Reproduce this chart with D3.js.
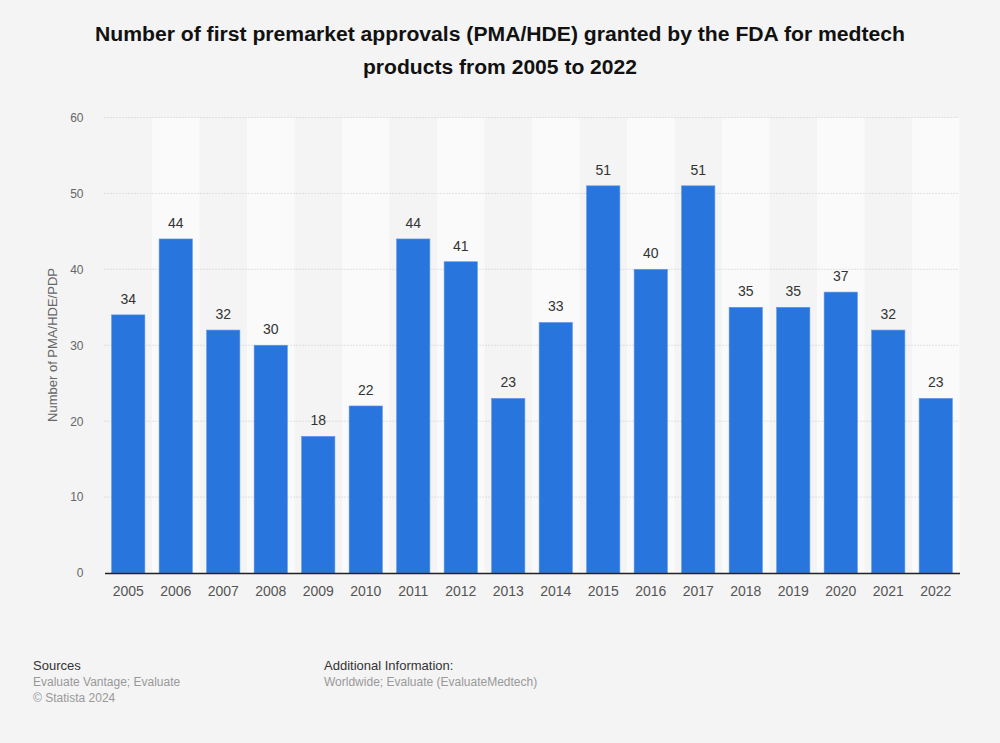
<!DOCTYPE html>
<html><head><meta charset="utf-8">
<script src="https://cdn.jsdelivr.net/npm/d3@7"></script>
<style>body{margin:0;background:#f4f4f4;}svg{display:block;}</style>
</head><body>
<script>
const years = ["2005","2006","2007","2008","2009","2010","2011","2012","2013","2014","2015","2016","2017","2018","2019","2020","2021","2022"];
const values = [34,44,32,30,18,22,44,41,23,33,51,40,51,35,35,37,32,23];
const yTicks = [0,10,20,30,40,50,60];
const titleLines = ["Number of first premarket approvals (PMA/HDE) granted by the FDA for medtech","products from 2005 to 2022"];
const yLabel = "Number of PMA/HDE/PDP";

const W=1000,H=743;
const svg=d3.select("body").append("svg").attr("width",W).attr("height",H);
svg.append("rect").attr("width",W).attr("height",H).attr("fill","#f4f4f4");
const font="'Liberation Sans', Arial, sans-serif";
const m={l:104.5,r:959.5,t:117.5,b:573};
const x=d3.scaleBand().domain(years).range([m.l,m.r]).paddingInner(0.3).paddingOuter(0.15);
const xb=d3.scaleBand().domain(years).range([m.l,m.r]);
const y=d3.scaleLinear().domain([0,60]).range([m.b,m.t]);

// alternating bands
svg.selectAll("rect.band").data(years.filter((d,i)=>i%2===1)).enter().append("rect")
 .attr("x",d=>xb(d)).attr("y",m.t).attr("width",xb.bandwidth()).attr("height",m.b-m.t).attr("fill","#fafafa");

// gridlines
svg.selectAll("line.grid").data(yTicks.filter(d=>d>0)).enter().append("line")
 .attr("x1",m.l).attr("x2",m.r).attr("y1",d=>y(d)).attr("y2",d=>y(d))
 .attr("stroke","#c8c8c8").attr("stroke-width",1).attr("stroke-dasharray","1,2");

// y axis
const ya=svg.append("g").attr("transform",`translate(${m.l},0)`)
 .call(d3.axisLeft(y).tickValues(yTicks).tickSize(0).tickPadding(21));
ya.select(".domain").remove();
ya.selectAll("text").attr("font-family",font).attr("font-size",12).attr("fill","#666");

// bars
svg.selectAll("rect.bar").data(values).enter().append("rect")
 .attr("x",(d,i)=>x(years[i])).attr("width",x.bandwidth())
 .attr("y",d=>y(d)).attr("height",d=>y(0)-y(d))
 .attr("fill","#2876dd").attr("stroke","#5a96e6").attr("stroke-width",0.6);

// value labels
svg.selectAll("text.val").data(values).enter().append("text")
 .attr("x",(d,i)=>x(years[i])+x.bandwidth()/2).attr("y",d=>y(d)-11)
 .attr("text-anchor","middle").attr("font-family",font).attr("font-size",14).attr("fill","#333")
 .text(d=>d);

// x axis
const xa=svg.append("g").attr("transform",`translate(0,${m.b})`)
 .call(d3.axisBottom(xb).tickSize(0).tickPadding(13));
xa.select(".domain").attr("stroke","#222").attr("stroke-width",1.5);
xa.selectAll("text").attr("font-family",font).attr("font-size",14).attr("fill","#555");

// y label
svg.append("text").attr("transform",`translate(57,345) rotate(-90)`)
 .attr("text-anchor","middle").attr("font-family",font).attr("font-size",13).attr("fill","#666").text(yLabel);

// title
svg.selectAll("text.title").data(titleLines).enter().append("text")
 .attr("x",500).attr("y",(d,i)=>41+i*33).attr("text-anchor","middle")
 .attr("font-family",font).attr("font-weight","bold").attr("font-size",20).attr("fill","#111")
 .attr("textLength",(d,i)=>i===0?810:274).attr("lengthAdjust","spacingAndGlyphs")
 .text(d=>d);

// footer
const ft=[{t:"Sources",x:33,y:670,c:"#333",s:13},{t:"Evaluate Vantage; Evaluate",x:33,y:686,c:"#999",s:12},{t:"© Statista 2024",x:33,y:702,c:"#999",s:12},
 {t:"Additional Information:",x:324,y:670,c:"#333",s:13},{t:"Worldwide; Evaluate (EvaluateMedtech)",x:324,y:686,c:"#999",s:12}];
svg.selectAll("text.ft").data(ft).enter().append("text").attr("x",d=>d.x).attr("y",d=>d.y)
 .attr("font-family",font).attr("font-size",d=>d.s).attr("fill",d=>d.c).text(d=>d.t);
</script>
</body></html>
